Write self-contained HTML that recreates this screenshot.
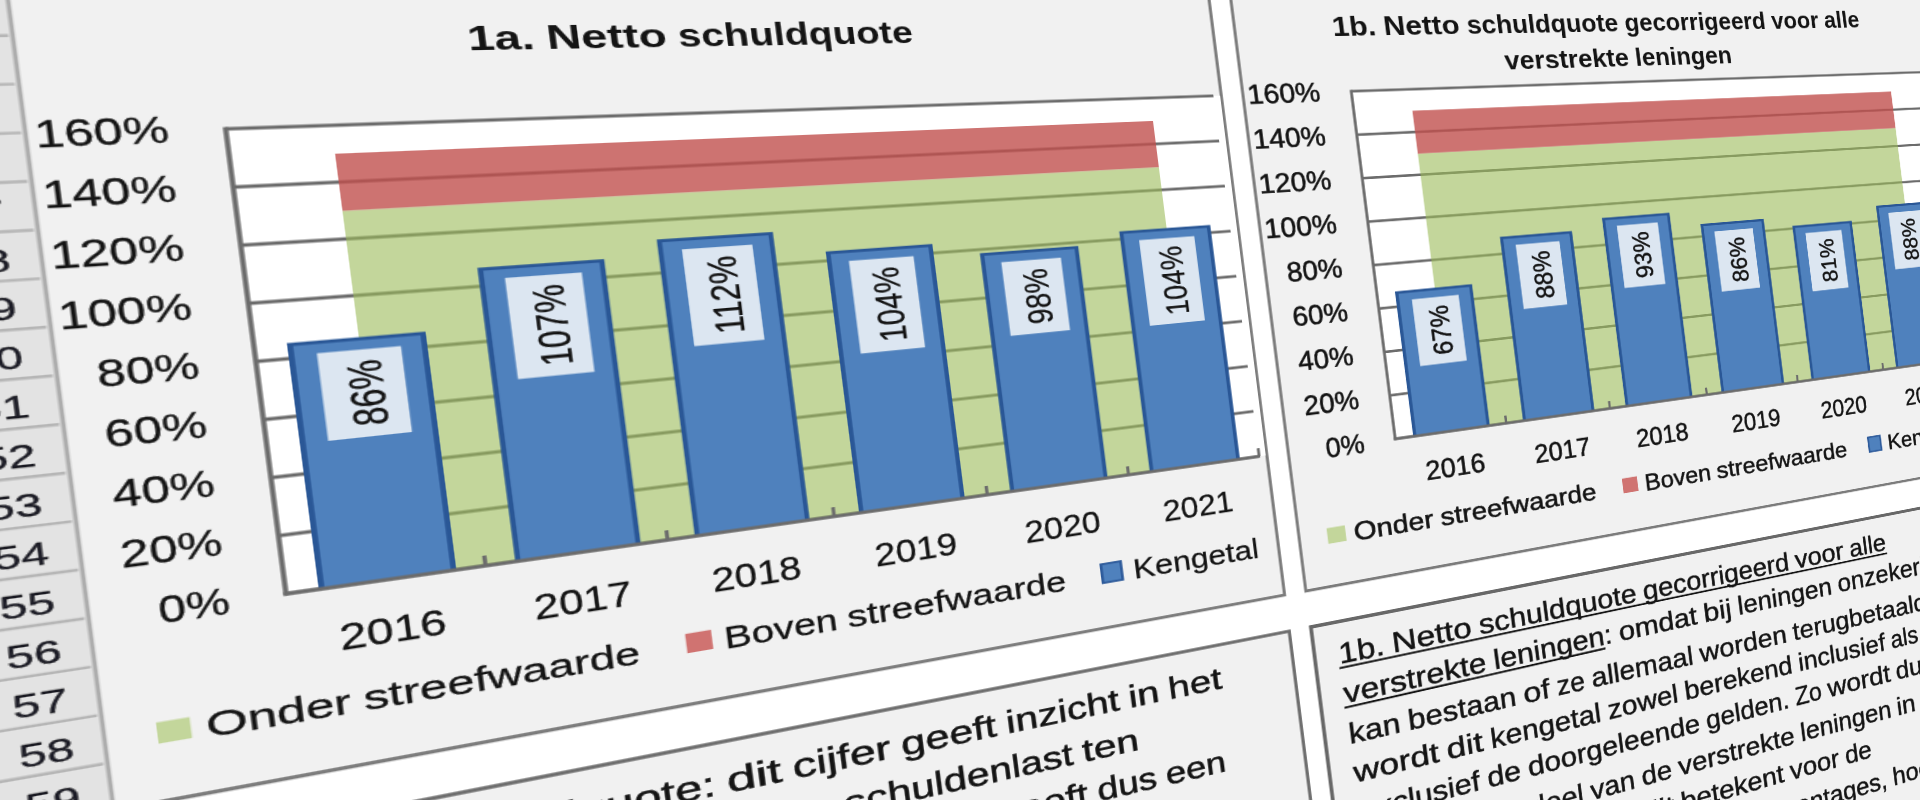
<!DOCTYPE html>
<html><head><meta charset="utf-8"><title>Netto schuldquote</title>
<style>
html,body{margin:0;padding:0;background:#fff;}
html,body{width:1920px;height:800px;overflow:hidden;}
#view{position:relative;width:1920px;height:800px;overflow:hidden;background:#fff;}
#stage{position:absolute;left:0;top:0;width:2080px;height:1200px;transform-origin:0 0;filter:blur(0.45px);transform:matrix3d(1.85752614,-0.00725100,0,0.0004022296,0.16843868,1.29132021,0,0.0000038145,0,0,1,0,-276.470488,-48.770734,0,1.00000000);}
svg{display:block;font-family:"Liberation Sans", sans-serif;}
svg text{stroke:#141414;stroke-width:.3px;}
#c1b text{stroke-width:.6px;}
svg .tb text{stroke-width:.55px;}
svg text.b{stroke:none;}
</style></head>
<body>
<div id="view">
<div id="stage">
<svg width="2080" height="1200" viewBox="-270.0 -150.0 2080 1200">
<rect x="-270.0" y="-150.0" width="2080" height="1200" fill="#ffffff"/>
<rect x="-270.0" y="-150.0" width="150.2" height="1200" fill="#e3e3e3"/>
<line x1="-270.0" y1="-162.2" x2="-119.8" y2="-162.2" stroke="#b6b6b6" stroke-width="2.4"/>
<line x1="-270.0" y1="-122.2" x2="-119.8" y2="-122.2" stroke="#b6b6b6" stroke-width="2.4"/>
<line x1="-270.0" y1="-82.3" x2="-119.8" y2="-82.3" stroke="#b6b6b6" stroke-width="2.4"/>
<line x1="-270.0" y1="-42.4" x2="-119.8" y2="-42.4" stroke="#b6b6b6" stroke-width="2.4"/>
<line x1="-270.0" y1="-2.4" x2="-119.8" y2="-2.4" stroke="#b6b6b6" stroke-width="2.4"/>
<line x1="-270.0" y1="37.5" x2="-119.8" y2="37.5" stroke="#b6b6b6" stroke-width="2.4"/>
<line x1="-270.0" y1="77.5" x2="-119.8" y2="77.5" stroke="#b6b6b6" stroke-width="2.4"/>
<line x1="-270.0" y1="117.4" x2="-119.8" y2="117.4" stroke="#b6b6b6" stroke-width="2.4"/>
<line x1="-270.0" y1="157.3" x2="-119.8" y2="157.3" stroke="#b6b6b6" stroke-width="2.4"/>
<line x1="-270.0" y1="197.3" x2="-119.8" y2="197.3" stroke="#b6b6b6" stroke-width="2.4"/>
<line x1="-270.0" y1="237.2" x2="-119.8" y2="237.2" stroke="#b6b6b6" stroke-width="2.4"/>
<line x1="-270.0" y1="277.2" x2="-119.8" y2="277.2" stroke="#b6b6b6" stroke-width="2.4"/>
<line x1="-270.0" y1="317.1" x2="-119.8" y2="317.1" stroke="#b6b6b6" stroke-width="2.4"/>
<line x1="-270.0" y1="357.0" x2="-119.8" y2="357.0" stroke="#b6b6b6" stroke-width="2.4"/>
<line x1="-270.0" y1="397.0" x2="-119.8" y2="397.0" stroke="#b6b6b6" stroke-width="2.4"/>
<line x1="-270.0" y1="436.9" x2="-119.8" y2="436.9" stroke="#b6b6b6" stroke-width="2.4"/>
<line x1="-270.0" y1="476.9" x2="-119.8" y2="476.9" stroke="#b6b6b6" stroke-width="2.4"/>
<line x1="-270.0" y1="516.8" x2="-119.8" y2="516.8" stroke="#b6b6b6" stroke-width="2.4"/>
<line x1="-270.0" y1="556.7" x2="-119.8" y2="556.7" stroke="#b6b6b6" stroke-width="2.4"/>
<line x1="-270.0" y1="596.7" x2="-119.8" y2="596.7" stroke="#b6b6b6" stroke-width="2.4"/>
<line x1="-270.0" y1="636.6" x2="-119.8" y2="636.6" stroke="#b6b6b6" stroke-width="2.4"/>
<line x1="-270.0" y1="676.6" x2="-119.8" y2="676.6" stroke="#b6b6b6" stroke-width="2.4"/>
<line x1="-270.0" y1="716.5" x2="-119.8" y2="716.5" stroke="#b6b6b6" stroke-width="2.4"/>
<line x1="-270.0" y1="756.4" x2="-119.8" y2="756.4" stroke="#b6b6b6" stroke-width="2.4"/>
<line x1="-270.0" y1="796.4" x2="-119.8" y2="796.4" stroke="#b6b6b6" stroke-width="2.4"/>
<line x1="-270.0" y1="836.3" x2="-119.8" y2="836.3" stroke="#b6b6b6" stroke-width="2.4"/>
<line x1="-270.0" y1="876.3" x2="-119.8" y2="876.3" stroke="#b6b6b6" stroke-width="2.4"/>
<line x1="-270.0" y1="916.2" x2="-119.8" y2="916.2" stroke="#b6b6b6" stroke-width="2.4"/>
<line x1="-270.0" y1="956.1" x2="-119.8" y2="956.1" stroke="#b6b6b6" stroke-width="2.4"/>
<line x1="-270.0" y1="996.1" x2="-119.8" y2="996.1" stroke="#b6b6b6" stroke-width="2.4"/>
<line x1="-270.0" y1="1036.0" x2="-119.8" y2="1036.0" stroke="#b6b6b6" stroke-width="2.4"/>
<line x1="-270.0" y1="1076.0" x2="-119.8" y2="1076.0" stroke="#b6b6b6" stroke-width="2.4"/>
<text x="-153.8" y="-90.1" font-size="26.5" text-anchor="middle" fill="#1b1b26" stroke="#1b1b26" stroke-width="0.8" textLength="31.5" lengthAdjust="spacingAndGlyphs">43</text>
<text x="-153.8" y="-50.2" font-size="26.5" text-anchor="middle" fill="#1b1b26" stroke="#1b1b26" stroke-width="0.8" textLength="31.5" lengthAdjust="spacingAndGlyphs">44</text>
<text x="-153.8" y="-10.2" font-size="26.5" text-anchor="middle" fill="#1b1b26" stroke="#1b1b26" stroke-width="0.8" textLength="31.5" lengthAdjust="spacingAndGlyphs">45</text>
<text x="-153.8" y="29.7" font-size="26.5" text-anchor="middle" fill="#1b1b26" stroke="#1b1b26" stroke-width="0.8" textLength="31.5" lengthAdjust="spacingAndGlyphs">46</text>
<text x="-153.8" y="69.7" font-size="26.5" text-anchor="middle" fill="#1b1b26" stroke="#1b1b26" stroke-width="0.8" textLength="31.5" lengthAdjust="spacingAndGlyphs">47</text>
<text x="-153.8" y="109.6" font-size="26.5" text-anchor="middle" fill="#1b1b26" stroke="#1b1b26" stroke-width="0.8" textLength="31.5" lengthAdjust="spacingAndGlyphs">48</text>
<text x="-153.8" y="149.5" font-size="26.5" text-anchor="middle" fill="#1b1b26" stroke="#1b1b26" stroke-width="0.8" textLength="31.5" lengthAdjust="spacingAndGlyphs">49</text>
<text x="-153.8" y="189.5" font-size="26.5" text-anchor="middle" fill="#1b1b26" stroke="#1b1b26" stroke-width="0.8" textLength="31.5" lengthAdjust="spacingAndGlyphs">50</text>
<text x="-153.8" y="229.4" font-size="26.5" text-anchor="middle" fill="#1b1b26" stroke="#1b1b26" stroke-width="0.8" textLength="31.5" lengthAdjust="spacingAndGlyphs">51</text>
<text x="-153.8" y="269.4" font-size="26.5" text-anchor="middle" fill="#1b1b26" stroke="#1b1b26" stroke-width="0.8" textLength="31.5" lengthAdjust="spacingAndGlyphs">52</text>
<text x="-153.8" y="309.3" font-size="26.5" text-anchor="middle" fill="#1b1b26" stroke="#1b1b26" stroke-width="0.8" textLength="31.5" lengthAdjust="spacingAndGlyphs">53</text>
<text x="-153.8" y="349.2" font-size="26.5" text-anchor="middle" fill="#1b1b26" stroke="#1b1b26" stroke-width="0.8" textLength="31.5" lengthAdjust="spacingAndGlyphs">54</text>
<text x="-153.8" y="389.2" font-size="26.5" text-anchor="middle" fill="#1b1b26" stroke="#1b1b26" stroke-width="0.8" textLength="31.5" lengthAdjust="spacingAndGlyphs">55</text>
<text x="-153.8" y="429.1" font-size="26.5" text-anchor="middle" fill="#1b1b26" stroke="#1b1b26" stroke-width="0.8" textLength="31.5" lengthAdjust="spacingAndGlyphs">56</text>
<text x="-153.8" y="469.1" font-size="26.5" text-anchor="middle" fill="#1b1b26" stroke="#1b1b26" stroke-width="0.8" textLength="31.5" lengthAdjust="spacingAndGlyphs">57</text>
<text x="-153.8" y="509.0" font-size="26.5" text-anchor="middle" fill="#1b1b26" stroke="#1b1b26" stroke-width="0.8" textLength="31.5" lengthAdjust="spacingAndGlyphs">58</text>
<text x="-153.8" y="548.9" font-size="26.5" text-anchor="middle" fill="#1b1b26" stroke="#1b1b26" stroke-width="0.8" textLength="31.5" lengthAdjust="spacingAndGlyphs">59</text>
<text x="-153.8" y="588.9" font-size="26.5" text-anchor="middle" fill="#1b1b26" stroke="#1b1b26" stroke-width="0.8" textLength="31.5" lengthAdjust="spacingAndGlyphs">60</text>
<text x="-153.8" y="628.8" font-size="26.5" text-anchor="middle" fill="#1b1b26" stroke="#1b1b26" stroke-width="0.8" textLength="31.5" lengthAdjust="spacingAndGlyphs">61</text>
<text x="-153.8" y="668.8" font-size="26.5" text-anchor="middle" fill="#1b1b26" stroke="#1b1b26" stroke-width="0.8" textLength="31.5" lengthAdjust="spacingAndGlyphs">62</text>
<text x="-153.8" y="708.7" font-size="26.5" text-anchor="middle" fill="#1b1b26" stroke="#1b1b26" stroke-width="0.8" textLength="31.5" lengthAdjust="spacingAndGlyphs">63</text>
<text x="-153.8" y="748.6" font-size="26.5" text-anchor="middle" fill="#1b1b26" stroke="#1b1b26" stroke-width="0.8" textLength="31.5" lengthAdjust="spacingAndGlyphs">64</text>
<text x="-153.8" y="788.6" font-size="26.5" text-anchor="middle" fill="#1b1b26" stroke="#1b1b26" stroke-width="0.8" textLength="31.5" lengthAdjust="spacingAndGlyphs">65</text>
<text x="-153.8" y="828.5" font-size="26.5" text-anchor="middle" fill="#1b1b26" stroke="#1b1b26" stroke-width="0.8" textLength="31.5" lengthAdjust="spacingAndGlyphs">66</text>
<text x="-153.8" y="868.5" font-size="26.5" text-anchor="middle" fill="#1b1b26" stroke="#1b1b26" stroke-width="0.8" textLength="31.5" lengthAdjust="spacingAndGlyphs">67</text>
<text x="-153.8" y="908.4" font-size="26.5" text-anchor="middle" fill="#1b1b26" stroke="#1b1b26" stroke-width="0.8" textLength="31.5" lengthAdjust="spacingAndGlyphs">68</text>
<text x="-153.8" y="948.3" font-size="26.5" text-anchor="middle" fill="#1b1b26" stroke="#1b1b26" stroke-width="0.8" textLength="31.5" lengthAdjust="spacingAndGlyphs">69</text>
<text x="-153.8" y="988.3" font-size="26.5" text-anchor="middle" fill="#1b1b26" stroke="#1b1b26" stroke-width="0.8" textLength="31.5" lengthAdjust="spacingAndGlyphs">70</text>
<text x="-153.8" y="1028.2" font-size="26.5" text-anchor="middle" fill="#1b1b26" stroke="#1b1b26" stroke-width="0.8" textLength="31.5" lengthAdjust="spacingAndGlyphs">71</text>
<g id="c1a"><rect x="-119.8" y="-140" width="928" height="695.7" fill="#f1f1f1" stroke="#7c7c7c" stroke-width="3.2"/>
<g>
<rect x="0" y="0" width="807" height="400" fill="#ffffff"/>
<line x1="0" y1="0" x2="800" y2="0" stroke="#6c6c6c" stroke-width="3"/>
<line x1="0" y1="50" x2="800" y2="50" stroke="#6c6c6c" stroke-width="3"/>
<line x1="0" y1="100" x2="800" y2="100" stroke="#6c6c6c" stroke-width="3"/>
<line x1="0" y1="150" x2="800" y2="150" stroke="#6c6c6c" stroke-width="3"/>
<line x1="0" y1="200" x2="800" y2="200" stroke="#6c6c6c" stroke-width="3"/>
<line x1="0" y1="250" x2="800" y2="250" stroke="#6c6c6c" stroke-width="3"/>
<line x1="0" y1="300" x2="800" y2="300" stroke="#6c6c6c" stroke-width="3"/>
<line x1="0" y1="350" x2="800" y2="350" stroke="#6c6c6c" stroke-width="3"/>
<line x1="0" y1="400" x2="800" y2="400" stroke="#6c6c6c" stroke-width="3"/>
<rect x="68" y="75.3" width="667" height="324.7" fill="#9bbb59" fill-opacity="0.6"/>
<rect x="68" y="25" width="667" height="50.3" fill="#c0504d" fill-opacity="0.8"/>
<line x1="0" y1="-1.5" x2="0" y2="401.5" stroke="#6c6c6c" stroke-width="3.3"/>
<line x1="133.3" y1="391" x2="133.3" y2="400" stroke="#6c6c6c" stroke-width="3"/>
<line x1="266.7" y1="391" x2="266.7" y2="400" stroke="#6c6c6c" stroke-width="3"/>
<line x1="400.0" y1="391" x2="400.0" y2="400" stroke="#6c6c6c" stroke-width="3"/>
<line x1="533.3" y1="391" x2="533.3" y2="400" stroke="#6c6c6c" stroke-width="3"/>
<line x1="666.7" y1="391" x2="666.7" y2="400" stroke="#6c6c6c" stroke-width="3"/>
<line x1="800.0" y1="391" x2="800.0" y2="400" stroke="#6c6c6c" stroke-width="3"/>
<rect x="21.0" y="186.6" width="92.0" height="213.4" fill="#2a5796"/>
<rect x="24.8" y="189.5" width="84.4" height="210.5" fill="#4f81bd"/>
<rect x="39.4" y="197.5" width="55.8" height="76.5" fill="#dce6f1"/>
<text transform="translate(80.3,264.7) rotate(-90)" font-size="32.5" textLength="57.9" lengthAdjust="spacingAndGlyphs" fill="#141414">86%</text>
<rect x="154.3" y="133.2" width="92.0" height="266.8" fill="#2a5796"/>
<rect x="158.1" y="136.1" width="84.4" height="263.9" fill="#4f81bd"/>
<rect x="172.7" y="144.1" width="55.8" height="92.5" fill="#dce6f1"/>
<text transform="translate(213.6,227.8) rotate(-90)" font-size="32.5" textLength="74.9" lengthAdjust="spacingAndGlyphs" fill="#141414">107%</text>
<rect x="287.7" y="118.2" width="92.0" height="281.8" fill="#2a5796"/>
<rect x="291.5" y="121.1" width="84.4" height="278.9" fill="#4f81bd"/>
<rect x="306.1" y="129.1" width="55.8" height="92.5" fill="#dce6f1"/>
<text transform="translate(347.0,212.8) rotate(-90)" font-size="32.5" textLength="74.9" lengthAdjust="spacingAndGlyphs" fill="#141414">112%</text>
<rect x="421.0" y="140.8" width="92.0" height="259.2" fill="#2a5796"/>
<rect x="424.8" y="143.7" width="84.4" height="256.3" fill="#4f81bd"/>
<rect x="439.4" y="151.7" width="55.8" height="92.5" fill="#dce6f1"/>
<text transform="translate(480.3,235.4) rotate(-90)" font-size="32.5" textLength="74.9" lengthAdjust="spacingAndGlyphs" fill="#141414">104%</text>
<rect x="554.3" y="153.8" width="92.0" height="246.2" fill="#2a5796"/>
<rect x="558.1" y="156.7" width="84.4" height="243.3" fill="#4f81bd"/>
<rect x="572.7" y="164.7" width="55.8" height="76.5" fill="#dce6f1"/>
<text transform="translate(613.6,231.9) rotate(-90)" font-size="32.5" textLength="57.9" lengthAdjust="spacingAndGlyphs" fill="#141414">98%</text>
<rect x="687.7" y="141.6" width="92.0" height="258.4" fill="#2a5796"/>
<rect x="691.5" y="144.5" width="84.4" height="255.5" fill="#4f81bd"/>
<rect x="706.1" y="152.5" width="55.8" height="92.5" fill="#dce6f1"/>
<text transform="translate(747.0,236.2) rotate(-90)" font-size="32.5" textLength="74.9" lengthAdjust="spacingAndGlyphs" fill="#141414">104%</text>
<line x1="-1.6" y1="400" x2="801" y2="400" stroke="#6c6c6c" stroke-width="3"/>
</g>
<text x="-35.4" y="10.3" font-size="30.9" text-anchor="end" textLength="79.6" lengthAdjust="spacingAndGlyphs" fill="#141414">160%</text>
<text x="-35.4" y="60.3" font-size="30.9" text-anchor="end" textLength="79.6" lengthAdjust="spacingAndGlyphs" fill="#141414">140%</text>
<text x="-35.4" y="110.3" font-size="30.9" text-anchor="end" textLength="79.6" lengthAdjust="spacingAndGlyphs" fill="#141414">120%</text>
<text x="-35.4" y="160.3" font-size="30.9" text-anchor="end" textLength="79.6" lengthAdjust="spacingAndGlyphs" fill="#141414">100%</text>
<text x="-35.4" y="210.3" font-size="30.9" text-anchor="end" textLength="61.5" lengthAdjust="spacingAndGlyphs" fill="#141414">80%</text>
<text x="-35.4" y="260.3" font-size="30.9" text-anchor="end" textLength="61.5" lengthAdjust="spacingAndGlyphs" fill="#141414">60%</text>
<text x="-35.4" y="310.3" font-size="30.9" text-anchor="end" textLength="61.5" lengthAdjust="spacingAndGlyphs" fill="#141414">40%</text>
<text x="-35.4" y="360.3" font-size="30.9" text-anchor="end" textLength="61.5" lengthAdjust="spacingAndGlyphs" fill="#141414">20%</text>
<text x="-35.4" y="410.3" font-size="30.9" text-anchor="end" textLength="43.5" lengthAdjust="spacingAndGlyphs" fill="#141414">0%</text>
<text x="66.0" y="454.8" font-size="31.5" text-anchor="middle" textLength="71.5" lengthAdjust="spacingAndGlyphs" fill="#141414">2016</text>
<text x="199.1" y="454.8" font-size="31.5" text-anchor="middle" textLength="71.5" lengthAdjust="spacingAndGlyphs" fill="#141414">2017</text>
<text x="332.2" y="454.8" font-size="31.5" text-anchor="middle" textLength="71.5" lengthAdjust="spacingAndGlyphs" fill="#141414">2018</text>
<text x="465.3" y="454.8" font-size="31.5" text-anchor="middle" textLength="71.5" lengthAdjust="spacingAndGlyphs" fill="#141414">2019</text>
<text x="598.4" y="454.8" font-size="31.5" text-anchor="middle" textLength="71.5" lengthAdjust="spacingAndGlyphs" fill="#141414">2020</text>
<text x="731.5" y="454.8" font-size="31.5" text-anchor="middle" textLength="71.5" lengthAdjust="spacingAndGlyphs" fill="#141414">2021</text>
<rect x="-89" y="490.5" width="20.3" height="17.6" fill="#c3d69b"/>
<g transform="translate(-59.6,509.6)"><text x="0.0" y="0" font-size="29" fill="#141414" textLength="92.0" lengthAdjust="spacingAndGlyphs">Onder</text><text x="100.1" y="0" font-size="29" fill="#141414" textLength="194.8" lengthAdjust="spacingAndGlyphs">streefwaarde</text></g>
<rect x="270.7" y="489.8" width="20.1" height="18.2" fill="#d07371"/>
<g transform="translate(300.3,509.6)"><text x="0.0" y="0" font-size="29" fill="#141414" textLength="91.5" lengthAdjust="spacingAndGlyphs">Boven</text><text x="99.7" y="0" font-size="29" fill="#141414" textLength="194.8" lengthAdjust="spacingAndGlyphs">streefwaarde</text></g>
<rect x="628" y="488.1" width="21.7" height="21.7" fill="#2e5b9b"/><rect x="630.6" y="490.2" width="16.5" height="17.5" fill="#4f81bd"/>
<g transform="translate(659.4,509.9)"><text x="0.0" y="0" font-size="29" fill="#141414" textLength="127.8" lengthAdjust="spacingAndGlyphs">Kengetal</text></g></g>
<g id="c1b" transform="translate(950.1,0) scale(0.9933,1)"><rect x="-119.8" y="-140" width="928" height="695.7" fill="#f1f1f1" stroke="#7c7c7c" stroke-width="3.2"/>
<g transform="scale(1,1.005)">
<rect x="0" y="0" width="807" height="400" fill="#ffffff"/>
<line x1="0" y1="0" x2="800" y2="0" stroke="#6c6c6c" stroke-width="3"/>
<line x1="0" y1="50" x2="800" y2="50" stroke="#6c6c6c" stroke-width="3"/>
<line x1="0" y1="100" x2="800" y2="100" stroke="#6c6c6c" stroke-width="3"/>
<line x1="0" y1="150" x2="800" y2="150" stroke="#6c6c6c" stroke-width="3"/>
<line x1="0" y1="200" x2="800" y2="200" stroke="#6c6c6c" stroke-width="3"/>
<line x1="0" y1="250" x2="800" y2="250" stroke="#6c6c6c" stroke-width="3"/>
<line x1="0" y1="300" x2="800" y2="300" stroke="#6c6c6c" stroke-width="3"/>
<line x1="0" y1="350" x2="800" y2="350" stroke="#6c6c6c" stroke-width="3"/>
<line x1="0" y1="400" x2="800" y2="400" stroke="#6c6c6c" stroke-width="3"/>
<rect x="68" y="75.3" width="667" height="324.7" fill="#9bbb59" fill-opacity="0.6"/>
<rect x="68" y="25" width="667" height="50.3" fill="#c0504d" fill-opacity="0.8"/>
<line x1="0" y1="-1.5" x2="0" y2="401.5" stroke="#6c6c6c" stroke-width="3.3"/>
<line x1="133.3" y1="391" x2="133.3" y2="400" stroke="#6c6c6c" stroke-width="3"/>
<line x1="266.7" y1="391" x2="266.7" y2="400" stroke="#6c6c6c" stroke-width="3"/>
<line x1="400.0" y1="391" x2="400.0" y2="400" stroke="#6c6c6c" stroke-width="3"/>
<line x1="533.3" y1="391" x2="533.3" y2="400" stroke="#6c6c6c" stroke-width="3"/>
<line x1="666.7" y1="391" x2="666.7" y2="400" stroke="#6c6c6c" stroke-width="3"/>
<line x1="800.0" y1="391" x2="800.0" y2="400" stroke="#6c6c6c" stroke-width="3"/>
<rect x="21.0" y="232.4" width="92.0" height="167.6" fill="#2a5796"/>
<rect x="24.8" y="235.3" width="84.4" height="164.7" fill="#4f81bd"/>
<rect x="39.4" y="243.3" width="55.8" height="77.5" fill="#dce6f1"/>
<text transform="translate(80.3,311.0) rotate(-90)" font-size="32.5" textLength="57.9" lengthAdjust="spacingAndGlyphs" fill="#141414">67%</text>
<rect x="154.3" y="179.6" width="92.0" height="220.4" fill="#2a5796"/>
<rect x="158.1" y="182.5" width="84.4" height="217.5" fill="#4f81bd"/>
<rect x="172.7" y="190.5" width="55.8" height="77.5" fill="#dce6f1"/>
<text transform="translate(213.6,258.2) rotate(-90)" font-size="32.5" textLength="57.9" lengthAdjust="spacingAndGlyphs" fill="#141414">88%</text>
<rect x="287.7" y="166.7" width="92.0" height="233.3" fill="#2a5796"/>
<rect x="291.5" y="169.6" width="84.4" height="230.4" fill="#4f81bd"/>
<rect x="306.1" y="177.6" width="55.8" height="77.5" fill="#dce6f1"/>
<text transform="translate(347.0,245.3) rotate(-90)" font-size="32.5" textLength="57.9" lengthAdjust="spacingAndGlyphs" fill="#141414">93%</text>
<rect x="421.0" y="184.1" width="92.0" height="215.9" fill="#2a5796"/>
<rect x="424.8" y="187.0" width="84.4" height="213.0" fill="#4f81bd"/>
<rect x="439.4" y="195.0" width="55.8" height="77.5" fill="#dce6f1"/>
<text transform="translate(480.3,262.7) rotate(-90)" font-size="32.5" textLength="57.9" lengthAdjust="spacingAndGlyphs" fill="#141414">86%</text>
<rect x="554.3" y="196.5" width="92.0" height="203.5" fill="#2a5796"/>
<rect x="558.1" y="199.4" width="84.4" height="200.6" fill="#4f81bd"/>
<rect x="572.7" y="207.4" width="55.8" height="77.5" fill="#dce6f1"/>
<text transform="translate(613.6,275.1) rotate(-90)" font-size="32.5" textLength="57.9" lengthAdjust="spacingAndGlyphs" fill="#141414">81%</text>
<rect x="687.7" y="179.1" width="92.0" height="220.9" fill="#2a5796"/>
<rect x="691.5" y="182.0" width="84.4" height="218.0" fill="#4f81bd"/>
<rect x="706.1" y="190.0" width="55.8" height="77.5" fill="#dce6f1"/>
<text transform="translate(747.0,257.7) rotate(-90)" font-size="32.5" textLength="57.9" lengthAdjust="spacingAndGlyphs" fill="#141414">88%</text>
<line x1="-1.6" y1="400" x2="801" y2="400" stroke="#6c6c6c" stroke-width="3"/>
</g>
<text x="-35.4" y="10.3" font-size="30.9" text-anchor="end" textLength="79.6" lengthAdjust="spacingAndGlyphs" fill="#141414">160%</text>
<text x="-35.4" y="60.5" font-size="30.9" text-anchor="end" textLength="79.6" lengthAdjust="spacingAndGlyphs" fill="#141414">140%</text>
<text x="-35.4" y="110.8" font-size="30.9" text-anchor="end" textLength="79.6" lengthAdjust="spacingAndGlyphs" fill="#141414">120%</text>
<text x="-35.4" y="161.0" font-size="30.9" text-anchor="end" textLength="79.6" lengthAdjust="spacingAndGlyphs" fill="#141414">100%</text>
<text x="-35.4" y="211.3" font-size="30.9" text-anchor="end" textLength="61.5" lengthAdjust="spacingAndGlyphs" fill="#141414">80%</text>
<text x="-35.4" y="261.5" font-size="30.9" text-anchor="end" textLength="61.5" lengthAdjust="spacingAndGlyphs" fill="#141414">60%</text>
<text x="-35.4" y="311.8" font-size="30.9" text-anchor="end" textLength="61.5" lengthAdjust="spacingAndGlyphs" fill="#141414">40%</text>
<text x="-35.4" y="362.0" font-size="30.9" text-anchor="end" textLength="61.5" lengthAdjust="spacingAndGlyphs" fill="#141414">20%</text>
<text x="-35.4" y="412.3" font-size="30.9" text-anchor="end" textLength="43.5" lengthAdjust="spacingAndGlyphs" fill="#141414">0%</text>
<text x="66.0" y="454.8" font-size="31.5" text-anchor="middle" textLength="71.5" lengthAdjust="spacingAndGlyphs" fill="#141414">2016</text>
<text x="199.1" y="454.8" font-size="31.5" text-anchor="middle" textLength="71.5" lengthAdjust="spacingAndGlyphs" fill="#141414">2017</text>
<text x="332.2" y="454.8" font-size="31.5" text-anchor="middle" textLength="71.5" lengthAdjust="spacingAndGlyphs" fill="#141414">2018</text>
<text x="465.3" y="454.8" font-size="31.5" text-anchor="middle" textLength="71.5" lengthAdjust="spacingAndGlyphs" fill="#141414">2019</text>
<text x="598.4" y="454.8" font-size="31.5" text-anchor="middle" textLength="71.5" lengthAdjust="spacingAndGlyphs" fill="#141414">2020</text>
<text x="731.5" y="454.8" font-size="31.5" text-anchor="middle" textLength="71.5" lengthAdjust="spacingAndGlyphs" fill="#141414">2021</text>
<rect x="-89" y="490.5" width="20.3" height="17.6" fill="#c3d69b"/>
<g transform="translate(-59.6,509.6)"><text x="0.0" y="0" font-size="29" fill="#141414" textLength="92.0" lengthAdjust="spacingAndGlyphs">Onder</text><text x="100.1" y="0" font-size="29" fill="#141414" textLength="194.8" lengthAdjust="spacingAndGlyphs">streefwaarde</text></g>
<rect x="270.7" y="489.8" width="20.1" height="18.2" fill="#d07371"/>
<g transform="translate(300.3,509.6)"><text x="0.0" y="0" font-size="29" fill="#141414" textLength="91.5" lengthAdjust="spacingAndGlyphs">Boven</text><text x="99.7" y="0" font-size="29" fill="#141414" textLength="194.8" lengthAdjust="spacingAndGlyphs">streefwaarde</text></g>
<rect x="628" y="488.1" width="21.7" height="21.7" fill="#2e5b9b"/><rect x="630.6" y="490.2" width="16.5" height="17.5" fill="#4f81bd"/>
<g transform="translate(659.4,509.9)"><text x="0.0" y="0" font-size="29" fill="#141414" textLength="127.8" lengthAdjust="spacingAndGlyphs">Kengetal</text></g></g>
<g transform="translate(167.9,-64.0)"><text x="0.0" y="0" font-size="31" fill="#141414" font-weight="bold" class="b" textLength="48.0" lengthAdjust="spacingAndGlyphs">1a.</text><text x="56.8" y="0" font-size="31" fill="#141414" font-weight="bold" class="b" textLength="90.8" lengthAdjust="spacingAndGlyphs">Netto</text><text x="156.4" y="0" font-size="31" fill="#141414" font-weight="bold" class="b" textLength="195.2" lengthAdjust="spacingAndGlyphs">schuldquote</text></g>
<g transform="translate(937.8,-63.8)"><text x="0.0" y="0" font-size="31" fill="#141414" font-weight="bold" class="b" textLength="49.7" lengthAdjust="spacingAndGlyphs">1b.</text><text x="58.4" y="0" font-size="31" fill="#141414" font-weight="bold" class="b" textLength="90.5" lengthAdjust="spacingAndGlyphs">Netto</text><text x="157.6" y="0" font-size="31" fill="#141414" font-weight="bold" class="b" textLength="194.4" lengthAdjust="spacingAndGlyphs">schuldquote</text><text x="360.7" y="0" font-size="31" fill="#141414" font-weight="bold" class="b" textLength="200.4" lengthAdjust="spacingAndGlyphs">gecorrigeerd</text><text x="569.9" y="0" font-size="31" fill="#141414" font-weight="bold" class="b" textLength="71.7" lengthAdjust="spacingAndGlyphs">voor</text><text x="650.3" y="0" font-size="31" fill="#141414" font-weight="bold" class="b" textLength="55.5" lengthAdjust="spacingAndGlyphs">alle</text></g>
<g transform="translate(1136.8,-20.2)"><text x="0.0" y="0" font-size="31" fill="#141414" font-weight="bold" class="b" textLength="161.5" lengthAdjust="spacingAndGlyphs">verstrekte</text><text x="170.2" y="0" font-size="31" fill="#141414" font-weight="bold" class="b" textLength="136.0" lengthAdjust="spacingAndGlyphs">leningen</text></g>
<rect x="-119.8" y="596" width="928" height="520" fill="#f1f1f1" stroke="#6e6e6e" stroke-width="3.4"/>
<rect x="831.6" y="596" width="922" height="520" fill="#f1f1f1" stroke="#686868" stroke-width="4"/>
<g class="tb" transform="translate(732.8,642.8) rotate(-0.22) translate(-825.9,0)"><text x="0.0" y="0" font-size="32.5" fill="#141414" textLength="49.4" lengthAdjust="spacingAndGlyphs">1a.</text><text x="58.4" y="0" font-size="32.5" fill="#141414" textLength="93.4" lengthAdjust="spacingAndGlyphs">Netto</text><text x="160.8" y="0" font-size="32.5" fill="#141414" textLength="211.4" lengthAdjust="spacingAndGlyphs">schuldquote:</text><text x="381.2" y="0" font-size="32.5" fill="#141414" textLength="43.5" lengthAdjust="spacingAndGlyphs">dit</text><text x="433.7" y="0" font-size="32.5" fill="#141414" textLength="81.5" lengthAdjust="spacingAndGlyphs">cijfer</text><text x="524.3" y="0" font-size="32.5" fill="#141414" textLength="84.0" lengthAdjust="spacingAndGlyphs">geeft</text><text x="617.3" y="0" font-size="32.5" fill="#141414" textLength="106.2" lengthAdjust="spacingAndGlyphs">inzicht</text><text x="732.6" y="0" font-size="32.5" fill="#141414" textLength="30.1" lengthAdjust="spacingAndGlyphs">in</text><text x="771.7" y="0" font-size="32.5" fill="#141414" textLength="54.2" lengthAdjust="spacingAndGlyphs">het</text><line x1="-1" y1="4.6" x2="361.5" y2="4.6" stroke="#141414" stroke-width="2.3"/></g>
<g class="tb" transform="translate(644.0,688.6) rotate(-0.22) translate(-739.1,0)"><text x="0.0" y="0" font-size="32.5" fill="#141414" textLength="108.1" lengthAdjust="spacingAndGlyphs">niveau</text><text x="117.1" y="0" font-size="32.5" fill="#141414" textLength="58.1" lengthAdjust="spacingAndGlyphs">van</text><text x="184.2" y="0" font-size="32.5" fill="#141414" textLength="40.8" lengthAdjust="spacingAndGlyphs">de</text><text x="234.0" y="0" font-size="32.5" fill="#141414" textLength="230.2" lengthAdjust="spacingAndGlyphs">gemeentelijke</text><text x="473.3" y="0" font-size="32.5" fill="#141414" textLength="202.6" lengthAdjust="spacingAndGlyphs">schuldenlast</text><text x="684.9" y="0" font-size="32.5" fill="#141414" textLength="54.2" lengthAdjust="spacingAndGlyphs">ten</text></g>
<g class="tb" transform="translate(726.4,731.7) rotate(-0.22) translate(-793.5,0)"><text x="0.0" y="0" font-size="32.5" fill="#141414" textLength="138.0" lengthAdjust="spacingAndGlyphs">opzichte</text><text x="147.0" y="0" font-size="32.5" fill="#141414" textLength="58.1" lengthAdjust="spacingAndGlyphs">van</text><text x="214.1" y="0" font-size="32.5" fill="#141414" textLength="40.8" lengthAdjust="spacingAndGlyphs">de</text><text x="263.9" y="0" font-size="32.5" fill="#141414" textLength="88.6" lengthAdjust="spacingAndGlyphs">eigen</text><text x="361.6" y="0" font-size="32.5" fill="#141414" textLength="152.8" lengthAdjust="spacingAndGlyphs">middelen</text><text x="523.4" y="0" font-size="32.5" fill="#141414" textLength="40.8" lengthAdjust="spacingAndGlyphs">en</text><text x="573.2" y="0" font-size="32.5" fill="#141414" textLength="84.0" lengthAdjust="spacingAndGlyphs">geeft</text><text x="666.3" y="0" font-size="32.5" fill="#141414" textLength="57.5" lengthAdjust="spacingAndGlyphs">dus</text><text x="732.8" y="0" font-size="32.5" fill="#141414" textLength="60.7" lengthAdjust="spacingAndGlyphs">een</text></g>
<g class="tb" transform="translate(720.0,783.0) rotate(-0.22) translate(-751.4,0)"><text x="0.0" y="0" font-size="32.5" fill="#141414" textLength="138.6" lengthAdjust="spacingAndGlyphs">indicatie</text><text x="147.6" y="0" font-size="32.5" fill="#141414" textLength="58.1" lengthAdjust="spacingAndGlyphs">van</text><text x="214.7" y="0" font-size="32.5" fill="#141414" textLength="40.8" lengthAdjust="spacingAndGlyphs">de</text><text x="264.6" y="0" font-size="32.5" fill="#141414" textLength="74.0" lengthAdjust="spacingAndGlyphs">druk</text><text x="347.6" y="0" font-size="32.5" fill="#141414" textLength="58.1" lengthAdjust="spacingAndGlyphs">van</text><text x="414.7" y="0" font-size="32.5" fill="#141414" textLength="40.8" lengthAdjust="spacingAndGlyphs">de</text><text x="464.5" y="0" font-size="32.5" fill="#141414" textLength="186.0" lengthAdjust="spacingAndGlyphs">rentelasten</text><text x="659.5" y="0" font-size="32.5" fill="#141414" textLength="42.0" lengthAdjust="spacingAndGlyphs">op</text><text x="710.6" y="0" font-size="32.5" fill="#141414" textLength="40.8" lengthAdjust="spacingAndGlyphs">de</text></g>
<g class="tb" transform="translate(100.0,828.0) rotate(-0.22) translate(-182.4,0)"><text x="0.0" y="0" font-size="32.5" fill="#141414" textLength="182.4" lengthAdjust="spacingAndGlyphs">exploitatie.</text></g>
<g class="tb"><text transform="translate(857.5,643.1) rotate(-0.12)" font-size="32.5" fill="#141414" textLength="51.0" lengthAdjust="spacingAndGlyphs">1b.</text><text transform="translate(917.5,643.0) rotate(-0.12)" font-size="32.5" fill="#141414" textLength="92.9" lengthAdjust="spacingAndGlyphs">Netto</text><text transform="translate(1019.4,642.8) rotate(-0.12)" font-size="32.5" fill="#141414" textLength="199.7" lengthAdjust="spacingAndGlyphs">schuldquote</text><text transform="translate(1228.0,642.3) rotate(0.03)" font-size="32.5" fill="#141414" textLength="205.8" lengthAdjust="spacingAndGlyphs">gecorrigeerd</text><text transform="translate(1442.9,642.4) rotate(0.03)" font-size="32.5" fill="#141414" textLength="73.6" lengthAdjust="spacingAndGlyphs">voor</text><text transform="translate(1525.5,642.5) rotate(0.03)" font-size="32.5" fill="#141414" textLength="57.0" lengthAdjust="spacingAndGlyphs">alle</text><polyline fill="none" stroke="#141414" stroke-width="2.3" points="856.5,647.7 1230.0,646.9 1582.5,647.1"/></g>
<g class="tb"><text transform="translate(857.5,687.8) rotate(-0.35)" font-size="32.5" fill="#141414" textLength="165.0" lengthAdjust="spacingAndGlyphs">verstrekte</text><text transform="translate(1031.5,686.7) rotate(-0.35)" font-size="32.5" fill="#141414" textLength="149.6" lengthAdjust="spacingAndGlyphs">leningen:</text><text transform="translate(1190.1,685.7) rotate(-0.15)" font-size="32.5" fill="#141414" textLength="105.8" lengthAdjust="spacingAndGlyphs">omdat</text><text transform="translate(1304.9,685.5) rotate(-0.03)" font-size="32.5" fill="#141414" textLength="39.5" lengthAdjust="spacingAndGlyphs">bij</text><text transform="translate(1353.3,685.4) rotate(-0.03)" font-size="32.5" fill="#141414" textLength="139.0" lengthAdjust="spacingAndGlyphs">leningen</text><text transform="translate(1501.3,685.4)" font-size="32.5" fill="#141414" textLength="199.4" lengthAdjust="spacingAndGlyphs">onzekerheid</text><polyline fill="none" stroke="#141414" stroke-width="2.3" points="856.5,692.4 1170.5,690.5"/></g>
<g class="tb"><text transform="translate(857.5,733.5) rotate(0.08)" font-size="32.5" fill="#141414" textLength="57.9" lengthAdjust="spacingAndGlyphs">kan</text><text transform="translate(924.4,733.6) rotate(0.08)" font-size="32.5" fill="#141414" textLength="128.3" lengthAdjust="spacingAndGlyphs">bestaan</text><text transform="translate(1061.7,733.8) rotate(0.08)" font-size="32.5" fill="#141414" textLength="33.1" lengthAdjust="spacingAndGlyphs">of</text><text transform="translate(1103.7,733.8) rotate(0.08)" font-size="32.5" fill="#141414" textLength="35.4" lengthAdjust="spacingAndGlyphs">ze</text><text transform="translate(1148.1,733.9)" font-size="32.5" fill="#141414" textLength="135.8" lengthAdjust="spacingAndGlyphs">allemaal</text><text transform="translate(1293.0,733.9) rotate(-0.12)" font-size="32.5" fill="#141414" textLength="124.6" lengthAdjust="spacingAndGlyphs">worden</text><text transform="translate(1426.6,733.6) rotate(-0.10)" font-size="32.5" fill="#141414" textLength="218.3" lengthAdjust="spacingAndGlyphs">terugbetaald,</text></g>
<g class="tb"><text transform="translate(857.5,777.2) rotate(-0.18)" font-size="32.5" fill="#141414" textLength="97.3" lengthAdjust="spacingAndGlyphs">wordt</text><text transform="translate(963.8,776.9) rotate(-0.18)" font-size="32.5" fill="#141414" textLength="43.3" lengthAdjust="spacingAndGlyphs">dit</text><text transform="translate(1016.0,776.7) rotate(-0.18)" font-size="32.5" fill="#141414" textLength="138.5" lengthAdjust="spacingAndGlyphs">kengetal</text><text transform="translate(1163.5,776.2) rotate(-0.30)" font-size="32.5" fill="#141414" textLength="93.9" lengthAdjust="spacingAndGlyphs">zowel</text><text transform="translate(1266.4,775.6) rotate(-0.51)" font-size="32.5" fill="#141414" textLength="153.7" lengthAdjust="spacingAndGlyphs">berekend</text><text transform="translate(1429.1,774.3) rotate(-0.08)" font-size="32.5" fill="#141414" textLength="133.2" lengthAdjust="spacingAndGlyphs">inclusief</text><text transform="translate(1571.3,774.1) rotate(-0.08)" font-size="32.5" fill="#141414" textLength="43.7" lengthAdjust="spacingAndGlyphs">als</text></g>
<g class="tb"><text transform="translate(857.5,821.5) rotate(-0.41)" font-size="32.5" fill="#141414" textLength="140.2" lengthAdjust="spacingAndGlyphs">exclusief</text><text transform="translate(1006.7,820.4) rotate(-0.41)" font-size="32.5" fill="#141414" textLength="40.6" lengthAdjust="spacingAndGlyphs">de</text><text transform="translate(1056.3,820.1) rotate(-0.44)" font-size="32.5" fill="#141414" textLength="225.1" lengthAdjust="spacingAndGlyphs">doorgeleende</text><text transform="translate(1290.3,818.2) rotate(-0.45)" font-size="32.5" fill="#141414" textLength="119.0" lengthAdjust="spacingAndGlyphs">gelden.</text><text transform="translate(1418.4,817.3)" font-size="32.5" fill="#141414" textLength="39.5" lengthAdjust="spacingAndGlyphs">Zo</text><text transform="translate(1466.9,817.3)" font-size="32.5" fill="#141414" textLength="97.3" lengthAdjust="spacingAndGlyphs">wordt</text><text transform="translate(1573.1,817.3)" font-size="32.5" fill="#141414" textLength="137.2" lengthAdjust="spacingAndGlyphs">duidelijk</text></g>
<g class="tb"><text transform="translate(859.3,869.0) rotate(-0.51)" font-size="32.5" fill="#141414" textLength="60.7" lengthAdjust="spacingAndGlyphs">wat</text><text transform="translate(929.0,868.4) rotate(-0.51)" font-size="32.5" fill="#141414" textLength="53.9" lengthAdjust="spacingAndGlyphs">het</text><text transform="translate(991.8,867.8) rotate(-0.51)" font-size="32.5" fill="#141414" textLength="128.4" lengthAdjust="spacingAndGlyphs">aandeel</text><text transform="translate(1129.2,866.6) rotate(-0.51)" font-size="32.5" fill="#141414" textLength="57.8" lengthAdjust="spacingAndGlyphs">van</text><text transform="translate(1196.0,866.0) rotate(-0.51)" font-size="32.5" fill="#141414" textLength="40.6" lengthAdjust="spacingAndGlyphs">de</text><text transform="translate(1245.6,865.5) rotate(-0.39)" font-size="32.5" fill="#141414" textLength="165.0" lengthAdjust="spacingAndGlyphs">verstrekte</text><text transform="translate(1419.6,864.4)" font-size="32.5" fill="#141414" textLength="139.0" lengthAdjust="spacingAndGlyphs">leningen</text><text transform="translate(1567.5,864.4)" font-size="32.5" fill="#141414" textLength="30.0" lengthAdjust="spacingAndGlyphs">in</text></g>
<g class="tb"><text transform="translate(808.1,913.0)" font-size="32.5" fill="#141414" textLength="40.6" lengthAdjust="spacingAndGlyphs">de</text><text transform="translate(857.7,913.0) rotate(-0.49)" font-size="32.5" fill="#141414" textLength="171.4" lengthAdjust="spacingAndGlyphs">exploitatie</text><text transform="translate(1038.1,911.4) rotate(-0.49)" font-size="32.5" fill="#141414" textLength="24.6" lengthAdjust="spacingAndGlyphs">is</text><text transform="translate(1071.7,911.2) rotate(-0.49)" font-size="32.5" fill="#141414" textLength="40.6" lengthAdjust="spacingAndGlyphs">en</text><text transform="translate(1121.3,910.7) rotate(-0.49)" font-size="32.5" fill="#141414" textLength="60.7" lengthAdjust="spacingAndGlyphs">wat</text><text transform="translate(1190.9,910.1) rotate(-0.49)" font-size="32.5" fill="#141414" textLength="43.3" lengthAdjust="spacingAndGlyphs">dit</text><text transform="translate(1243.2,909.7) rotate(-0.43)" font-size="32.5" fill="#141414" textLength="145.6" lengthAdjust="spacingAndGlyphs">betekent</text><text transform="translate(1397.8,908.6)" font-size="32.5" fill="#141414" textLength="73.6" lengthAdjust="spacingAndGlyphs">voor</text><text transform="translate(1480.4,908.6)" font-size="32.5" fill="#141414" textLength="40.6" lengthAdjust="spacingAndGlyphs">de</text></g>
<g class="tb"><text transform="translate(883.3,957.8) rotate(-0.42)" font-size="32.5" fill="#141414" textLength="211.6" lengthAdjust="spacingAndGlyphs">schuldenlast.</text><text transform="translate(1103.9,956.2) rotate(-0.42)" font-size="32.5" fill="#141414" textLength="65.4" lengthAdjust="spacingAndGlyphs">Hoe</text><text transform="translate(1178.3,955.6) rotate(-0.42)" font-size="32.5" fill="#141414" textLength="94.1" lengthAdjust="spacingAndGlyphs">hoger</text><text transform="translate(1281.4,954.9) rotate(-0.42)" font-size="32.5" fill="#141414" textLength="40.6" lengthAdjust="spacingAndGlyphs">de</text><text transform="translate(1330.9,954.5) rotate(-0.08)" font-size="32.5" fill="#141414" textLength="208.0" lengthAdjust="spacingAndGlyphs">percentages,</text><text transform="translate(1548.0,954.2)" font-size="32.5" fill="#141414" textLength="61.5" lengthAdjust="spacingAndGlyphs">hoe</text></g>
<g class="tb"><text transform="translate(857.5,1003.0) rotate(-0.27)" font-size="32.5" fill="#141414" textLength="202.4" lengthAdjust="spacingAndGlyphs">ongunstiger.</text></g>
<rect x="-122.5" y="-150" width="2.7" height="1200" fill="#e3e3e3"/>
<rect x="-119.8" y="-138" width="2.6" height="692" fill="#f1f1f1"/>
<rect x="-119.8" y="598" width="2.6" height="500" fill="#f1f1f1"/>
<line x1="-120.1" y1="-150" x2="-120.1" y2="1050" stroke="#adadad" stroke-width="2.7"/>
</svg>
</div>
</div>
</body></html>
